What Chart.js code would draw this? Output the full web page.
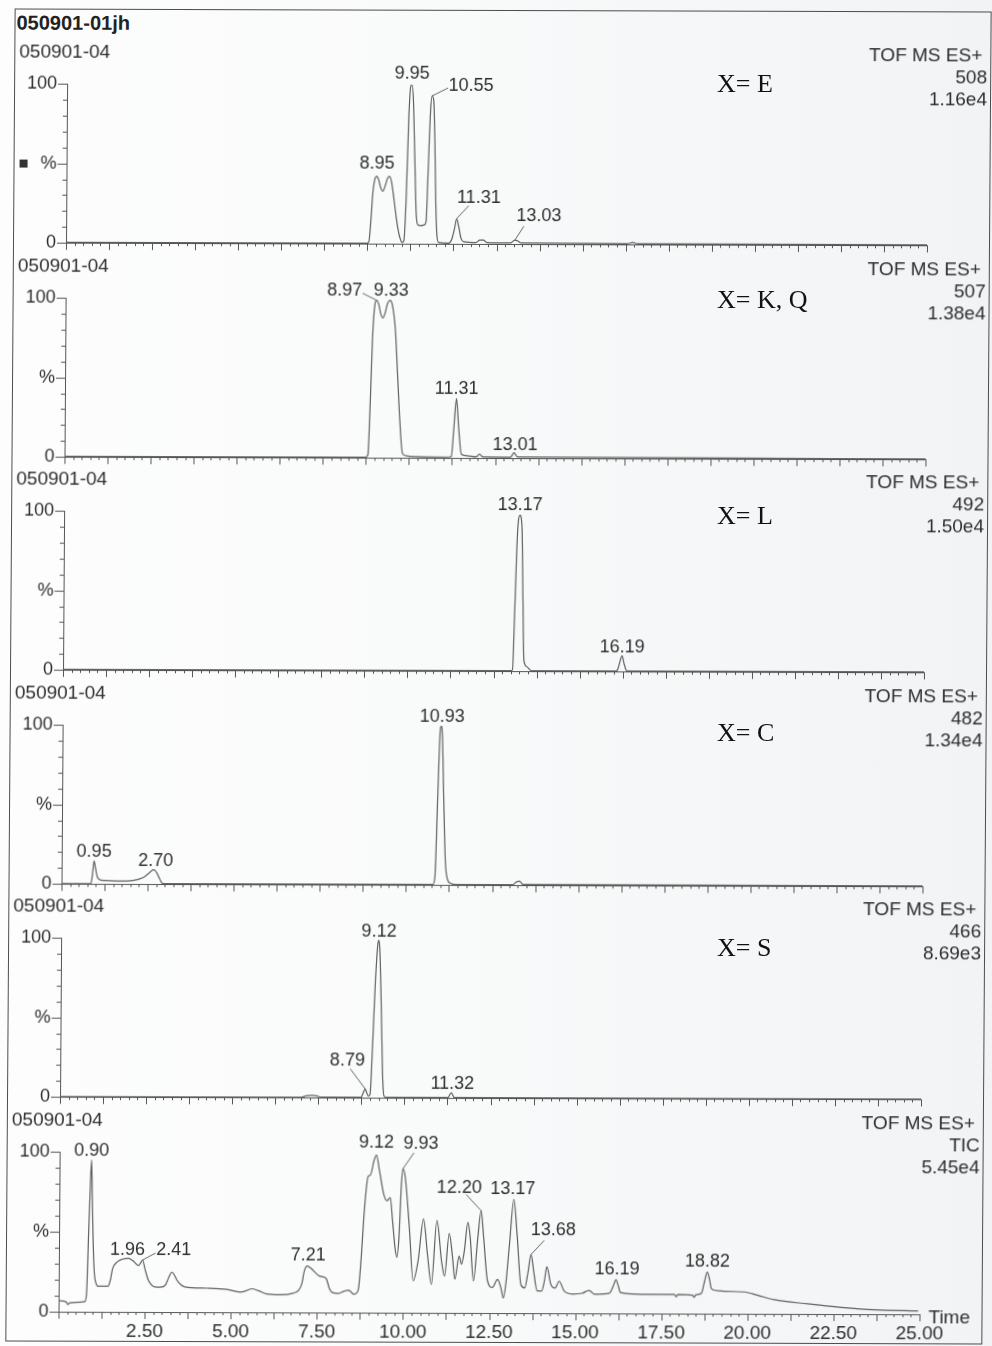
<!DOCTYPE html>
<html>
<head>
<meta charset="utf-8">
<title>050901-01jh</title>
<script src="https://cdn.jsdelivr.net/npm/chart.js"></script>
<style>
  html, body { margin: 0; padding: 0; }
  body {
    width: 992px; height: 1346px; overflow: hidden; position: relative;
    background: linear-gradient(90deg, #fdfdfd 0%, #f9fafa 45%, #f1f3f5 100%);
    font-family: "Liberation Sans", Arial, sans-serif; color: #2e2e2e;
  }
  /* the scan is slightly skewed, so the whole sheet gets the same small skew */
  #sheet {
    position: absolute; left: 0; top: 0; width: 992px; height: 1346px;
    transform-origin: 496px 673px; transform: matrix(1, 0.003, -0.007, 1, 0, 0);
  }
  #frame { position: absolute; left: 10px; top: 10px; width: 975px; height: 1331px; border: 1.5px solid #4d4d4d; }
  #sheet canvas { position: absolute; left: 0; }
  .title { position: absolute; left: 12px; top: 12px; font: bold 20px/24px "Liberation Sans", Arial, sans-serif; color: #222; }
  .tag { position: absolute; left: 717px; font: 26px/30px "Liberation Serif", "Times New Roman", serif; color: #111; white-space: nowrap; }
</style>
</head>
<body>
<div id="sheet">
  <div id="frame"></div>
  <div class="title">050901-01jh</div>
</div>

<script>
// ============================================================
//  Six stacked LC-MS chromatograms (TOF MS ES+), one Chart.js
//  line chart per trace.
//  [retention time in min, intensity in %]
// ============================================================

// ── DATA ─────────────────────────────────────────────────────

const traceE = [
  [0, 0.3], [8.7, 0.3], [8.79, 1], [8.84, 12], [8.9, 32], [8.96, 41], [9.01, 42.5], [9.07, 40],
  [9.13, 35], [9.19, 33], [9.25, 36], [9.32, 41], [9.38, 42.5], [9.44, 39], [9.52, 27], [9.6, 14],
  [9.68, 5], [9.76, 1], [9.81, 2], [9.87, 30], [9.93, 80], [9.98, 99], [10.02, 100], [10.06, 90],
  [10.11, 55], [10.16, 20], [10.21, 12], [10.3, 11.5], [10.4, 12], [10.45, 14], [10.5, 45],
  [10.56, 84], [10.6, 93], [10.65, 90], [10.69, 65], [10.73, 25], [10.77, 5], [10.82, 1],
  [11.1, 0.5], [11.2, 3], [11.28, 10], [11.34, 16], [11.4, 11], [11.47, 3.5], [11.55, 1.5],
  [11.9, 1], [12.02, 2.5], [12.12, 2.5], [12.22, 1], [12.9, 0.8], [13.03, 2.5], [13.12, 2],
  [13.22, 0.8], [16.3, 0.5], [16.45, 1.3], [16.6, 0.5], [25, 0.3]
];

const traceKQ = [
  [0, 0.4], [8.75, 0.4], [8.81, 2], [8.86, 30], [8.92, 75], [8.98, 96], [9.03, 99], [9.1, 96],
  [9.16, 90], [9.22, 88], [9.28, 91], [9.35, 97], [9.42, 99], [9.49, 96], [9.58, 81], [9.66, 50],
  [9.73, 23], [9.81, 3], [9.9, 1.5], [10.02, 1], [11.15, 0.6], [11.23, 1], [11.3, 19],
  [11.37, 37.5], [11.44, 19], [11.52, 2.5], [11.6, 1.8], [11.76, 1.3], [11.95, 0.8], [12.05, 2.5],
  [12.15, 0.8], [12.95, 0.7], [13.05, 3.5], [13.15, 0.8], [25, 0.4]
];

const traceL = [
  [0, 0.3], [12.98, 0.3], [13.05, 0.8], [13.1, 35], [13.17, 87], [13.24, 98], [13.3, 90],
  [13.34, 46], [13.38, 7], [13.46, 3], [13.6, 0.4], [16.05, 0.3], [16.1, 1], [16.16, 5.5],
  [16.23, 10], [16.29, 5], [16.36, 0.6], [16.45, 0.3], [25, 0.3]
];

const traceC = [
  [0, 0.2], [0.84, 0.2], [0.88, 3], [0.91, 9], [0.94, 14.5], [0.98, 10.5], [1.03, 5], [1.1, 2.8],
  [1.25, 2.2], [1.6, 1.9], [2.07, 2.3], [2.36, 4], [2.54, 7], [2.67, 9.2], [2.77, 7], [2.85, 3.3],
  [2.94, 0.3], [10.78, 0.3], [10.84, 5], [10.9, 50], [10.96, 95], [10.99, 100], [11.03, 94],
  [11.08, 55], [11.14, 15], [11.2, 4], [11.3, 1], [11.45, 0.3], [13.1, 0.3], [13.2, 2],
  [13.3, 2.5], [13.4, 0.5], [25, 0.3]
];

const traceS = [
  [0, 0.2], [7.0, 0.2], [7.15, 1.1], [7.31, 1.4], [7.45, 1.1], [7.58, 0.3], [8.74, 0.3], [8.8, 3],
  [8.86, 5.6], [8.9, 3.5], [8.95, 1.2], [9.0, 2], [9.06, 30], [9.13, 71], [9.2, 97], [9.23, 99],
  [9.26, 92], [9.31, 57], [9.36, 15], [9.41, 1], [9.5, 0.3], [11.26, 0.3], [11.36, 3.3],
  [11.45, 0.3], [25, 0.2]
];

const traceTIC = [
  [0, 6.9], [0.22, 6.2], [0.27, 4.5], [0.32, 5.5], [0.5, 5.8], [0.76, 6.3], [0.81, 11.5],
  [0.86, 50], [0.9, 80], [0.93, 95], [0.96, 70], [0.99, 45], [1.03, 25], [1.08, 18], [1.14, 16],
  [1.43, 16], [1.5, 20], [1.56, 27], [1.68, 31], [1.85, 33], [2.02, 33.5], [2.15, 32], [2.31, 29],
  [2.37, 30.5], [2.43, 32.5], [2.5, 27], [2.6, 20], [2.79, 15.7], [2.95, 15.5], [3.1, 17],
  [3.2, 22], [3.28, 25], [3.36, 23], [3.43, 20], [3.55, 17], [3.67, 15.7], [4.3, 15], [4.88, 14.3],
  [5.27, 12.6], [5.45, 13.5], [5.61, 14.7], [5.8, 13.5], [6.04, 11.5], [6.43, 11], [6.8, 12],
  [6.96, 13.6], [7.06, 18], [7.13, 26], [7.21, 29], [7.3, 28], [7.4, 26], [7.55, 23], [7.65, 22.4],
  [7.77, 21], [7.86, 15], [7.94, 12.6], [8.13, 12], [8.27, 13.2], [8.42, 14], [8.57, 11.5],
  [8.66, 12.5], [8.71, 15.7], [8.78, 35], [8.86, 64], [8.96, 85], [9.03, 86], [9.13, 95],
  [9.2, 98.5], [9.29, 89], [9.42, 74], [9.52, 70], [9.61, 72], [9.68, 57.6], [9.76, 40],
  [9.81, 34.6], [9.87, 47], [9.93, 80], [9.97, 90], [10.04, 85], [10.17, 53], [10.29, 20],
  [10.43, 32.5], [10.58, 58.7], [10.7, 36.7], [10.82, 17.8], [10.97, 57.7], [11.11, 32.5],
  [11.2, 23], [11.33, 49.7], [11.43, 34.6], [11.5, 21], [11.62, 35.6], [11.69, 30.4],
  [11.77, 38.8], [11.87, 56.6], [11.94, 47], [12.04, 20], [12.16, 47], [12.25, 64], [12.33, 47],
  [12.45, 20], [12.59, 16], [12.74, 21], [12.84, 15.7], [12.91, 9.4], [12.98, 17.8], [13.08, 43],
  [13.2, 71], [13.3, 49], [13.42, 17.8], [13.53, 15.7], [13.62, 25], [13.71, 36.7], [13.79, 26],
  [13.89, 14], [14.02, 13.8], [14.1, 20], [14.17, 29], [14.29, 18], [14.41, 15.7], [14.53, 20],
  [14.68, 13.8], [14.92, 12], [15.2, 12.5], [15.4, 14.3], [15.55, 12], [15.99, 12.6], [16.1, 17],
  [16.18, 21], [16.25, 17], [16.31, 13], [16.91, 12], [17.88, 12], [17.93, 10.5], [17.98, 12],
  [18.41, 11.5], [18.45, 10.2], [18.5, 11.8], [18.66, 12.6], [18.75, 20], [18.83, 26], [18.9, 21],
  [18.95, 15.7], [19.1, 14.5], [19.33, 14], [19.92, 13.6], [20.31, 11.5], [20.79, 8.8],
  [21.76, 6.3], [22.73, 4.2], [23.7, 2.7], [24.96, 2.1]
];

// peak labels: [time, intensity at the apex, printed retention time]
const peaksE   = [[9.19, 43, '8.95'], [10.02, 100, '9.95'], [10.6, 93, '10.55'], [11.34, 16, '11.31'], [13.03, 2.5, '13.03']];
const peaksKQ  = [[9.03, 99, '8.97'], [9.42, 99, '9.33'], [11.37, 37.5, '11.31'], [13.05, 3.5, '13.01']];
const peaksL   = [[13.24, 98, '13.17'], [16.23, 10, '16.19']];
const peaksC   = [[0.94, 14.5, '0.95'], [2.67, 9.2, '2.70'], [10.99, 100, '10.93']];
const peaksS   = [[9.23, 99, '9.12'], [8.86, 5.6, '8.79'], [11.36, 3.3, '11.32']];
const peaksTIC = [[0.93, 95, '0.90'], [2.02, 33.5, '1.96'], [2.43, 32.5, '2.41'], [7.21, 29, '7.21'],
                  [9.2, 98.5, '9.12'], [9.97, 90, '9.93'], [12.25, 64, '12.20'], [13.2, 71, '13.17'],
                  [13.71, 36.7, '13.68'], [16.18, 21, '16.19'], [18.83, 26, '18.82']];

const sampleName  = '050901-04';
const modeLabel   = 'TOF MS ES+';
const massLabels  = ['508', '507', '492', '482', '466', 'TIC'];
const scaleLabels = ['1.16e4', '1.38e4', '1.50e4', '1.34e4', '8.69e3', '5.45e4'];
const tagLabels   = ['X= E', 'X= K, Q', 'X= L', 'X= C', 'X= S'];

const timeTicks = [2.5, 5, 7.5, 10, 12.5, 15, 17.5, 20, 22.5, 25];
const yTicks    = [0, 50, 100];
const yTickText = ['0', '%', '100'];

const traces = [traceE, traceKQ, traceL, traceC, traceS, traceTIC];
const peaks  = [peaksE, peaksKQ, peaksL, peaksC, peaksS, peaksTIC];


// ── LAYOUT / STYLE ───────────────────────────────────────────

const PLOT_LEFT = 63, PLOT_RIGHT = 924, PLOT_H = 160;
const PANEL_TOP0 = 85, PANEL_STEP = 213.5, MARGIN_TOP = 44;
const TEXT_COLOR = '#2e2e2e', AXIS_COLOR = '#555', TRACE_COLOR = '#5e5e5e';
const FONT = '"Liberation Sans", Arial, sans-serif';
const X_MINOR = 0.25, X_MAJOR = 1.25, Y_MINOR = 10;

// label placement relative to the apex: [text dx, text dy, leader dx, leader dy]
const peakLayout = [
  [[-6, -12], [0, -11], [39, -10, 16, -8], [22, -21, 12, -13], [24, -24, 9, -14]],
  [[-32, -10, -14, -7], [1, -10], [0, -9], [1, -8]],
  [[0, -10], [0, -8]],
  [[0, -9], [2, -9], [1, -9]],
  [[0, -9], [-18, -28, -15, -20], [1, -9]],
  [[0, -9], [-1, -8], [31, -10, 13, -7], [1, -11], [0, -12], [18, -25, 11, -16],
   [-22, -23, -15, -16], [-1, -10], [22, -24, 13, -14], [1, -10], [0, -10]]
];

Chart.defaults.font.family = FONT;

const sheet = document.getElementById('sheet');

// the X= tags were typed over the scan afterwards, so they are not skewed
const tagTops = [69, 285, 501, 718, 933];
tagLabels.forEach((txt, i) => {
  const d = document.createElement('div');
  d.className = 'tag';
  d.style.top = tagTops[i] + 'px';
  d.textContent = txt;
  document.body.appendChild(d);
});


// ── DECORATION PLUGIN ────────────────────────────────────────
// tick marks, peak labels with leader lines and the panel headers

function panelPlugin(i) {
  const isLast = i === traces.length - 1;
  return {
    id: 'panelDecor' + i,
    afterDraw(chart) {
      const { ctx, chartArea: a, scales: { x, y } } = chart;
      ctx.save();

      // y ticks: long at 0 / 50 / 100, short every 10
      ctx.strokeStyle = AXIS_COLOR;
      ctx.lineWidth = 1;
      ctx.beginPath();
      for (let v = 0; v <= 100; v += Y_MINOR) {
        const py = Math.round(y.getPixelForValue(v)) + 0.5;
        const len = v % 50 === 0 ? 9 : 4;
        ctx.moveTo(a.left - len, py);
        ctx.lineTo(a.left, py);
      }
      // x ticks: every 0.25 min, longer every 1.25 min
      const nTicks = Math.round(x.max / X_MINOR);
      for (let k = 0; k <= nTicks; k++) {
        const t = k * X_MINOR;
        const px = Math.round(x.getPixelForValue(t)) + 0.5;
        const len = k % Math.round(X_MAJOR / X_MINOR) === 0 ? 7 : 3;
        ctx.moveTo(px, a.bottom);
        ctx.lineTo(px, a.bottom + len);
      }
      ctx.stroke();

      // peak labels
      ctx.font = '18px ' + FONT;
      ctx.fillStyle = TEXT_COLOR;
      ctx.textAlign = 'center';
      ctx.textBaseline = 'middle';
      ctx.strokeStyle = '#666';
      peaks[i].forEach(([t, v, txt], j) => {
        const px = x.getPixelForValue(t);
        const py = y.getPixelForValue(v);
        const lay = peakLayout[i][j];
        if (lay.length > 2) {
          ctx.beginPath();
          ctx.moveTo(px, py);
          ctx.lineTo(px + lay[2], py + lay[3]);
          ctx.stroke();
        }
        ctx.fillText(txt, px + lay[0], py + lay[1]);
      });

      // headers
      ctx.font = '19px ' + FONT;
      ctx.textAlign = 'left';
      ctx.fillText(sampleName, 15, a.top - 31);
      ctx.textAlign = 'right';
      ctx.fillText(modeLabel, 978, a.top - 30);
      ctx.fillText(massLabels[i], 983, a.top - 8);
      ctx.fillText(scaleLabels[i], 983, a.top + 14);

      if (i === 0) {
        ctx.fillStyle = '#333';
        ctx.fillRect(16, Math.round(y.getPixelForValue(50)) - 4, 8, 8);
      }
      if (isLast) {
        ctx.fillStyle = TEXT_COLOR;
        ctx.textAlign = 'left';
        ctx.fillText('Time', a.right + 9, a.bottom + 4);
      }
      ctx.restore();
    }
  };
}


// ── CHARTS ───────────────────────────────────────────────────

traces.forEach((trace, i) => {
  const isLast = i === traces.length - 1;
  const bottomSpace = isLast ? 40 : 20;
  const top = Math.round(PANEL_TOP0 + i * PANEL_STEP);

  const canvas = document.createElement('canvas');
  canvas.width = 992;
  canvas.height = MARGIN_TOP + PLOT_H + bottomSpace;
  canvas.style.top = (top - MARGIN_TOP) + 'px';
  sheet.appendChild(canvas);

  new Chart(canvas, {
    type: 'line',
    data: {
      datasets: [{
        data: trace.map(([t, v]) => ({ x: t, y: v })),
        borderColor: TRACE_COLOR,
        borderWidth: 1.2,
        pointRadius: 0,
        fill: false,
        cubicInterpolationMode: 'monotone'
      }]
    },
    options: {
      responsive: false,
      animation: false,
      devicePixelRatio: 1,
      events: [],
      layout: { padding: { top: MARGIN_TOP, right: 992 - PLOT_RIGHT, left: 0, bottom: 0 } },
      plugins: { legend: { display: false }, tooltip: { enabled: false } },
      scales: {
        x: {
          type: 'linear', min: 0, max: 25,
          grid: { display: false, drawTicks: false },
          border: { display: true, color: AXIS_COLOR, width: 1 },
          afterBuildTicks: s => { s.ticks = timeTicks.map(v => ({ value: v })); },
          afterFit: s => { s.height = bottomSpace; },
          ticks: {
            display: isLast, autoSkip: false, maxRotation: 0, padding: 8,
            color: TEXT_COLOR, font: { size: 19 },
            callback: v => v.toFixed(2)
          }
        },
        y: {
          min: 0, max: 100,
          grid: { display: false, drawTicks: false },
          border: { display: true, color: AXIS_COLOR, width: 1 },
          afterBuildTicks: s => { s.ticks = yTicks.map(v => ({ value: v })); },
          afterFit: s => { s.width = PLOT_LEFT; },
          ticks: {
            padding: 10, color: TEXT_COLOR, font: { size: 18 },
            callback: (v, k) => yTickText[k]
          }
        }
      }
    },
    plugins: [panelPlugin(i)]
  });
});
</script>
</body>
</html>
